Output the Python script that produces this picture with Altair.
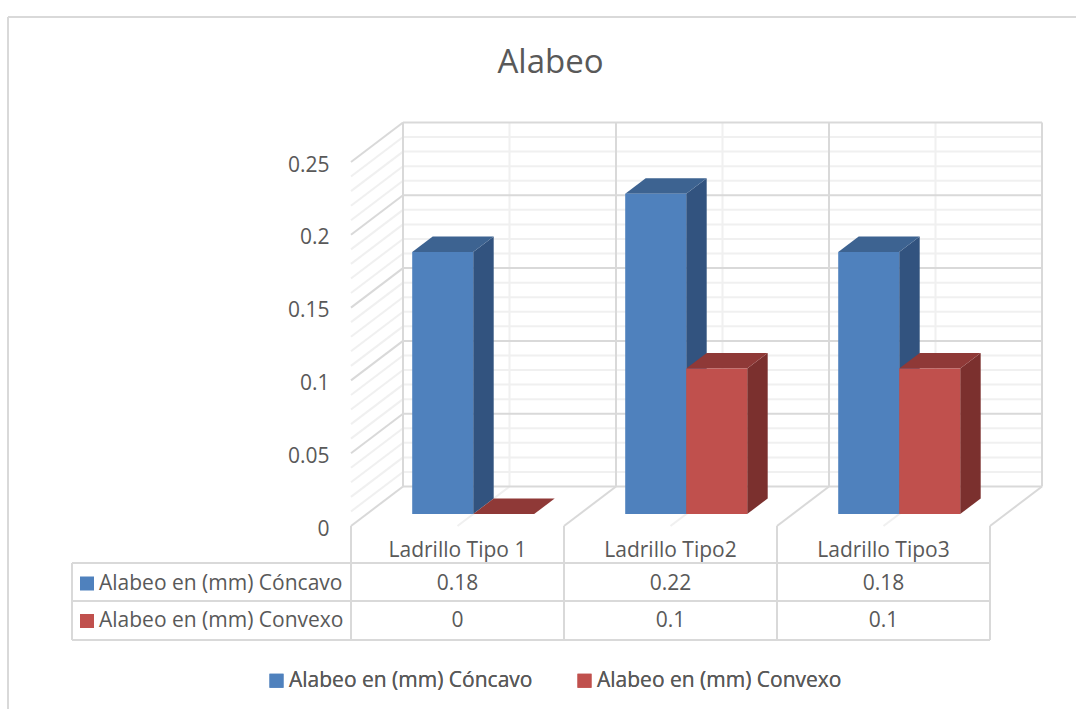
import altair as alt
import pandas as pd

categories = ["Ladrillo Tipo 1", "Ladrillo Tipo2", "Ladrillo Tipo3"]
series_names = ["Alabeo en (mm) Cóncavo", "Alabeo en (mm) Convexo"]
concavo = [0.18, 0.22, 0.18]
convexo = [0, 0.1, 0.1]
y_ticks = [0, 0.05, 0.1, 0.15, 0.2, 0.25]
minor_ticks = [0.01, 0.02, 0.03, 0.04, 0.06, 0.07, 0.08, 0.09, 0.11, 0.12, 0.13, 0.14,
               0.16, 0.17, 0.18, 0.19, 0.21, 0.22, 0.23, 0.24]

FONT = "Open Sans"
TEXT = "#595959"
MAJOR = "#d9d9d9"
MINOR = "#f0f0f0"
LABEL_SIZE = 21

PX_PER_CAT = 213
PX_PER_UNIT = 1456
PLOT_W = 3 * PX_PER_CAT
PLOT_H = round(0.25 * PX_PER_UNIT)


def px_x(px):
    return px / PX_PER_CAT


def px_y(px):
    return px / PX_PER_UNIT


x_scale = alt.Scale(domain=[0, 3], nice=False, zero=False)
y_scale = alt.Scale(domain=[0, 0.25], nice=False, zero=False)
# Value axis sits on the front plane and shows labels only
y_axis = alt.Axis(
    values=y_ticks,
    format="~g",
    title=None,
    domain=False,
    ticks=False,
    grid=False,
    labelFont=FONT,
    labelFontSize=LABEL_SIZE,
    labelColor=TEXT,
    labelPadding=22,
    labelOffset=3,
)
X = alt.X("x:Q", scale=x_scale, axis=None)
Y = alt.Y("y:Q", scale=y_scale, axis=y_axis)

# Perspective shift of the back wall relative to the front plane
WALL_DX, WALL_DY = px_x(52), px_y(39.5)
# Bar depth and the lift of the bar bases above the front edge
BAR_DX, BAR_DY = px_x(20.5), px_y(15.5)
BAR_BASE = px_y(12)
BAR_W = px_x(61)
BAR_START = px_x(61.2)


def segments(rows):
    return pd.DataFrame(rows, columns=["x", "y", "x2", "y2"])


def rules(rows, color, width=2):
    return alt.Chart(segments(rows)).mark_rule(color=color, strokeWidth=width, clip=False).encode(
        x=X, x2="x2:Q", y=Y, y2="y2:Q"
    )


def wall_lines(ticks):
    rows = []
    for t in ticks:
        rows.append((WALL_DX, t + WALL_DY, 3 + WALL_DX, t + WALL_DY))
        rows.append((0, t, WALL_DX, t + WALL_DY))
    return rows


minor_rows = wall_lines(minor_ticks)
for c in range(3):
    mid = c + 0.5
    minor_rows.append((mid + WALL_DX, WALL_DY, mid + WALL_DX, 0.25 + WALL_DY))
    minor_rows.append((mid, 0, mid + WALL_DX, WALL_DY))

major_rows = wall_lines(y_ticks[1:])
for c in range(4):
    major_rows.append((c + WALL_DX, WALL_DY, c + WALL_DX, 0.25 + WALL_DY))
    major_rows.append((c, 0, c + WALL_DX, WALL_DY))
major_rows.append((WALL_DX, WALL_DY, 3 + WALL_DX, WALL_DY))

# Data table underneath the plot
ROW_TOP, ROW_MID, ROW_BOTTOM = -px_y(37), -px_y(75), -px_y(114)
TABLE_LEFT = -px_x(279)
table_rows = [(TABLE_LEFT, r, 3, r) for r in (ROW_TOP, ROW_MID, ROW_BOTTOM)]
table_rows.append((TABLE_LEFT, ROW_TOP, TABLE_LEFT, ROW_BOTTOM))
for c in range(4):
    table_rows.append((c, 0, c, ROW_BOTTOM))

# Chart frame: open on the right and at the bottom
frame_left, frame_top = -px_x(343), 0.25 + px_y(145)
frame_rows = [
    (frame_left, frame_top, px_x(725), frame_top),
    (frame_left, frame_top, frame_left, -px_y(183)),
]

FRONT = ["#4f81bd", "#c0504d"]
SIDE = ["#32537f", "#7b302e"]
TOP = ["#3d6391", "#8f3937"]

bar_layers = []
for s, values in enumerate([concavo, convexo]):
    front, side, top = [], [], []
    for c, v in enumerate(values):
        left = c + BAR_START + s * BAR_W
        right = left + BAR_W
        low, high = BAR_BASE, BAR_BASE + v
        front.append({"x": left, "x2": right, "y": low, "y2": high, "serie": series_names[s]})
        side += [
            {"x": right, "y": low, "y2": high, "bar": c},
            {"x": right + BAR_DX, "y": low + BAR_DY, "y2": high + BAR_DY, "bar": c},
        ]
        top += [
            {"y": high, "x": left, "x2": right, "bar": c},
            {"y": high + BAR_DY, "x": left + BAR_DX, "x2": right + BAR_DX, "bar": c},
        ]
    bar_layers.append(
        alt.Chart(pd.DataFrame(side)).mark_area(color=SIDE[s], clip=False, orient="vertical").encode(
            x=X, y=Y, y2="y2:Q", detail="bar:N"
        )
    )
    bar_layers.append(
        alt.Chart(pd.DataFrame(top)).mark_area(color=TOP[s], clip=False, orient="horizontal").encode(
            y=Y, x=X, x2="x2:Q", detail="bar:N"
        )
    )
    bar_layers.append(
        alt.Chart(pd.DataFrame(front)).mark_rect(clip=False).encode(
            x=X,
            x2="x2:Q",
            y=Y,
            y2="y2:Q",
            color=alt.Color(
                "serie:N",
                scale=alt.Scale(domain=series_names, range=FRONT),
                legend=alt.Legend(
                    title=None,
                    orient="none",
                    direction="horizontal",
                    columns=2,
                    legendX=-85,
                    legendY=508,
                    symbolType="square",
                    symbolSize=196,
                    symbolStrokeWidth=0,
                    symbolOpacity=1,
                    labelFont=FONT,
                    labelFontSize=LABEL_SIZE,
                    labelColor=TEXT,
                    labelLimit=400,
                    labelOffset=2,
                    columnPadding=41,
                ),
            ),
        )
    )

table_text = []
cat_y, row1_y, row2_y = -px_y(24.5), -px_y(57.5), -px_y(95)
for c, name in enumerate(categories):
    table_text.append({"x": c + 0.5, "y": cat_y, "t": name})
    table_text.append({"x": c + 0.5, "y": row1_y, "t": f"{concavo[c]:g}"})
    table_text.append({"x": c + 0.5, "y": row2_y, "t": f"{convexo[c]:g}"})
cells = alt.Chart(pd.DataFrame(table_text)).mark_text(
    font=FONT, fontSize=LABEL_SIZE, color=TEXT, align="center", baseline="middle", clip=False
).encode(x=X, y=Y, text="t:N")

row_labels = alt.Chart(
    pd.DataFrame({"x": [-px_x(252)] * 2, "y": [row1_y, row2_y], "t": series_names})
).mark_text(
    font=FONT, fontSize=LABEL_SIZE, color=TEXT, align="left", baseline="middle", clip=False
).encode(x=X, y=Y, text="t:N")

row_keys = alt.Chart(
    pd.DataFrame({"x": [-px_x(264)] * 2, "y": [row1_y, row2_y], "c": FRONT})
).mark_square(size=196, opacity=1, clip=False).encode(
    x=X, y=Y, color=alt.Color("c:N", scale=None)
)

chart = (
    alt.layer(
        rules(frame_rows, MAJOR),
        rules(minor_rows, MINOR),
        rules(major_rows, MAJOR),
        *bar_layers,
        rules(table_rows, MAJOR),
        cells,
        row_labels,
        row_keys,
    )
    .resolve_scale(color="independent")
    .properties(
        width=PLOT_W,
        height=PLOT_H,
        background="white",
        padding={"left": 351, "top": 162, "right": 86, "bottom": 183},
        autosize=alt.AutoSizeParams(type="none"),
        title=alt.TitleParams(
            "Alabeo",
            font=FONT,
            fontSize=33,
            fontWeight="normal",
            color=TEXT,
            anchor="middle",
            dx=-120,
            offset=-64,
        ),
    )
    .configure_view(stroke=None)
)

chart.save("out.html", embed_options={"renderer": "svg", "actions": False})
